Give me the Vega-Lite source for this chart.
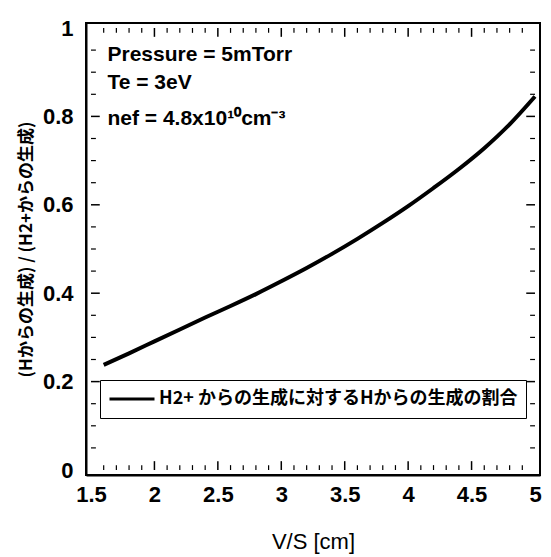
{
  "$schema": "https://vega.github.io/schema/vega-lite/v6.json",
  "width": 454,
  "height": 452,
  "autosize": "none",
  "padding": {"left": 86, "top": 23, "right": 11, "bottom": 82},
  "background": "white",
  "config": {
    "view": {"stroke": "black", "strokeWidth": 2},
    "axis": {
      "grid": false,
      "ticks": false,
      "domainColor": "black",
      "domainWidth": 2,
      "labelColor": "black",
      "titleColor": "black",
      "labelFont": "Liberation Sans",
      "labelFontSize": 22,
      "labelFontWeight": "bold",
      "titleFont": "Liberation Sans",
      "titleFontSize": 22,
      "titleFontWeight": "normal",
      "labelOverlap": false,
      "labelFlush": false
    }
  },
  "datasets": {
    "curve": [
      {"vs": 1.6, "ratio": 0.238, "series": "H2+ からの生成に対するHからの生成の割合"},
      {"vs": 1.8, "ratio": 0.264, "series": "H2+ からの生成に対するHからの生成の割合"},
      {"vs": 2.0, "ratio": 0.291, "series": "H2+ からの生成に対するHからの生成の割合"},
      {"vs": 2.2, "ratio": 0.318, "series": "H2+ からの生成に対するHからの生成の割合"},
      {"vs": 2.4, "ratio": 0.345, "series": "H2+ からの生成に対するHからの生成の割合"},
      {"vs": 2.6, "ratio": 0.371, "series": "H2+ からの生成に対するHからの生成の割合"},
      {"vs": 2.8, "ratio": 0.398, "series": "H2+ からの生成に対するHからの生成の割合"},
      {"vs": 3.0, "ratio": 0.427, "series": "H2+ からの生成に対するHからの生成の割合"},
      {"vs": 3.2, "ratio": 0.457, "series": "H2+ からの生成に対するHからの生成の割合"},
      {"vs": 3.4, "ratio": 0.489, "series": "H2+ からの生成に対するHからの生成の割合"},
      {"vs": 3.6, "ratio": 0.523, "series": "H2+ からの生成に対するHからの生成の割合"},
      {"vs": 3.8, "ratio": 0.559, "series": "H2+ からの生成に対するHからの生成の割合"},
      {"vs": 4.0, "ratio": 0.597, "series": "H2+ からの生成に対するHからの生成の割合"},
      {"vs": 4.2, "ratio": 0.638, "series": "H2+ からの生成に対するHからの生成の割合"},
      {"vs": 4.4, "ratio": 0.681, "series": "H2+ からの生成に対するHからの生成の割合"},
      {"vs": 4.6, "ratio": 0.728, "series": "H2+ からの生成に対するHからの生成の割合"},
      {"vs": 4.8, "ratio": 0.782, "series": "H2+ からの生成に対するHからの生成の割合"},
      {"vs": 5.0, "ratio": 0.845, "series": "H2+ からの生成に対するHからの生成の割合"}
    ],
    "notes": [
      {"x": 1.63, "y": 0.940, "label": "Pressure = 5mTorr"},
      {"x": 1.63, "y": 0.876, "label": "Te = 3eV"},
      {"x": 1.63, "y": 0.794, "label": "nef = 4.8x10¹⁰cm⁻³"}
    ],
    "xmajor": [{"v": 2}, {"v": 2.5}, {"v": 3}, {"v": 3.5}, {"v": 4}, {"v": 4.5}],
    "xminor": [{"v": 1.6}, {"v": 1.7}, {"v": 1.8}, {"v": 1.9}, {"v": 2.1}, {"v": 2.2}, {"v": 2.3}, {"v": 2.4}, {"v": 2.6}, {"v": 2.7}, {"v": 2.8}, {"v": 2.9}, {"v": 3.1}, {"v": 3.2}, {"v": 3.3}, {"v": 3.4}, {"v": 3.6}, {"v": 3.7}, {"v": 3.8}, {"v": 3.9}, {"v": 4.1}, {"v": 4.2}, {"v": 4.3}, {"v": 4.4}, {"v": 4.6}, {"v": 4.7}, {"v": 4.8}, {"v": 4.9}],
    "ymajor": [{"v": 0.2}, {"v": 0.4}, {"v": 0.6}, {"v": 0.8}],
    "yminor": [{"v": 0.05}, {"v": 0.1}, {"v": 0.15}, {"v": 0.25}, {"v": 0.3}, {"v": 0.35}, {"v": 0.45}, {"v": 0.5}, {"v": 0.55}, {"v": 0.65}, {"v": 0.7}, {"v": 0.75}, {"v": 0.85}, {"v": 0.9}, {"v": 0.95}]
  },
  "layer": [
    {
      "data": {"name": "xmajor"},
      "mark": {"type": "bar", "orient": "vertical", "color": "black", "width": 1.5},
      "encoding": {
        "x": {"field": "v", "type": "quantitative"},
        "y": {"datum": 0, "type": "quantitative"},
        "y2": {"datum": 0.02}
      }
    },
    {
      "data": {"name": "xminor"},
      "mark": {"type": "bar", "orient": "vertical", "color": "black", "width": 1.2},
      "encoding": {
        "x": {"field": "v", "type": "quantitative"},
        "y": {"datum": 0, "type": "quantitative"},
        "y2": {"datum": 0.011}
      }
    },
    {
      "data": {"name": "xmajor"},
      "mark": {"type": "bar", "orient": "vertical", "color": "black", "width": 1.5},
      "encoding": {
        "x": {"field": "v", "type": "quantitative"},
        "y": {"datum": 1, "type": "quantitative"},
        "y2": {"datum": 0.98}
      }
    },
    {
      "data": {"name": "xminor"},
      "mark": {"type": "bar", "orient": "vertical", "color": "black", "width": 1.2},
      "encoding": {
        "x": {"field": "v", "type": "quantitative"},
        "y": {"datum": 1, "type": "quantitative"},
        "y2": {"datum": 0.989}
      }
    },
    {
      "data": {"name": "ymajor"},
      "mark": {"type": "bar", "orient": "horizontal", "color": "black", "height": 1.5},
      "encoding": {
        "y": {"field": "v", "type": "quantitative"},
        "x": {"datum": 1.5, "type": "quantitative"},
        "x2": {"datum": 1.569}
      }
    },
    {
      "data": {"name": "yminor"},
      "mark": {"type": "bar", "orient": "horizontal", "color": "black", "height": 1.2},
      "encoding": {
        "y": {"field": "v", "type": "quantitative"},
        "x": {"datum": 1.5, "type": "quantitative"},
        "x2": {"datum": 1.5385}
      }
    },
    {
      "data": {"name": "ymajor"},
      "mark": {"type": "bar", "orient": "horizontal", "color": "black", "height": 1.5},
      "encoding": {
        "y": {"field": "v", "type": "quantitative"},
        "x": {"datum": 5, "type": "quantitative"},
        "x2": {"datum": 4.931}
      }
    },
    {
      "data": {"name": "yminor"},
      "mark": {"type": "bar", "orient": "horizontal", "color": "black", "height": 1.2},
      "encoding": {
        "y": {"field": "v", "type": "quantitative"},
        "x": {"datum": 5, "type": "quantitative"},
        "x2": {"datum": 4.9615}
      }
    },
    {
      "data": {"name": "curve"},
      "mark": {"type": "line", "strokeWidth": 4, "interpolate": "monotone"},
      "encoding": {
        "x": {
          "field": "vs", "type": "quantitative",
          "scale": {"domain": [1.5, 5], "nice": false, "zero": false},
          "axis": {
            "orient": "bottom",
            "title": "V/S [cm]",
            "values": [1.5, 2, 2.5, 3, 3.5, 4, 4.5, 5],
            "format": "~g",
            "ticks": false,
            "labelPadding": 9,
            "titlePadding": 26
          }
        },
        "y": {
          "field": "ratio", "type": "quantitative",
          "scale": {"domain": [0, 1], "nice": false, "zero": false},
          "axis": {
            "orient": "left",
            "title": "(Hからの生成) / (H2+からの生成)",
            "titleFont": "Noto Sans CJK JP",
            "titleFontSize": 17,
            "titleFontWeight": "bold",
            "values": [0, 0.2, 0.4, 0.6, 0.8, 1],
            "format": "~g",
            "ticks": false,
            "labelPadding": 13,
            "titlePadding": 7
          }
        },
        "color": {
          "field": "series", "type": "nominal",
          "scale": {"range": ["black"]},
          "legend": {
            "orient": "none",
            "legendX": 14,
            "legendY": 357,
            "title": null,
            "strokeColor": "black",
            "fillColor": "white",
            "padding": 8,
            "clipHeight": 22,
            "symbolType": "stroke",
            "symbolSize": 2025,
            "symbolStrokeWidth": 3,
            "symbolStrokeColor": "black",
            "labelFont": "Noto Sans CJK JP",
            "labelFontSize": 18,
            "labelFontWeight": "bold",
            "labelColor": "black",
            "labelLimit": 600,
            "labelOffset": 3
          }
        }
      }
    },
    {
      "data": {"name": "notes"},
      "mark": {"type": "text", "align": "left", "baseline": "middle", "font": "Liberation Sans", "fontSize": 21, "fontWeight": "bold", "color": "black"},
      "encoding": {
        "x": {"field": "x", "type": "quantitative"},
        "y": {"field": "y", "type": "quantitative"},
        "text": {"field": "label"}
      }
    }
  ]
}
